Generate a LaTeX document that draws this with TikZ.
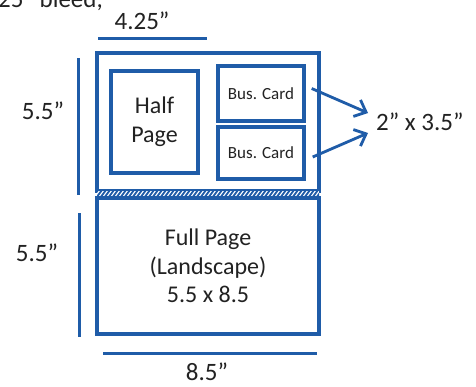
\documentclass[tikz,border=0pt]{standalone}
\usepackage{fontspec}
\setmainfont{Carlito}
\usetikzlibrary{arrows.meta}
\definecolor{pblue}{HTML}{1F5CA8}
\definecolor{ink}{HTML}{222222}
\begin{document}
\begin{tikzpicture}[x=1pt,y=-1pt,
  box/.style={draw=pblue, line width=3.4pt, inner sep=0pt, align=center, text=ink},
  dimline/.style={draw=pblue, line width=3pt},
  lbl/.style={text=ink, inner sep=0pt, font=\fontsize{25}{30}\selectfont},
  arr/.style={draw=pblue, line width=2.8pt, -{Straight Barb[length=10pt,width=18pt,line width=2.8pt]}}]
\clip (0,0) rectangle (476,386);
\fill[white] (0,0) rectangle (476,386);
% partial top text
\node[lbl, anchor=base west] (bleed) at (-2,7) {25” bleed,};
% outer boxes
\node[box, minimum width=222pt, minimum height=138pt] (top) at (208,122) {};
\node[box, minimum width=222pt, minimum height=136pt, font=\fontsize{24}{28.5}\selectfont] (full) at (208,266)
  {Full Page\\(Landscape)\\5.5 x 8.5};
% hatched band
\fill[white] (97,190) rectangle (319,197);
\begin{scope}
  \clip (97,190) rectangle (319,197);
  \foreach \i in {92,96,...,324} {\draw[pblue, line width=1.8pt] (\i,198) -- (\i+6,190);}
\end{scope}
\draw[pblue, line width=2pt] (95.3,190.3) -- (320.7,190.3);
\draw[pblue, line width=2pt] (95.3,197.2) -- (320.7,197.2);
% inner boxes
\node[box, minimum width=87pt, minimum height=102pt, font=\fontsize{24}{29}\selectfont] (half) at (154.5,122) {Half\\Page};
\node[box, minimum width=86pt, minimum height=55pt, font=\fontsize{17}{20}\selectfont] (bc1) at (261,93.5) {Bus. Card};
\node[box, minimum width=86pt, minimum height=52pt, font=\fontsize{17}{20}\selectfont] (bc2) at (261,153) {Bus. Card};
% card size label and arrows
\node[lbl, anchor=west] (dim) at (376,122) {2” x 3.5”};
\draw[arr] ([shift={(6,-5)}]bc1.east) -- ([shift={(-8,-9)}]dim.west);
\draw[arr] ([shift={(7,4)}]bc2.east) -- ([shift={(-8,11)}]dim.west);
% dimension lines
\node[lbl] (w425) at (142,21) {4.25”};
\coordinate (t1) at (98,38); \coordinate (t2) at (207,38);
\draw[dimline] (t1) -- (t2);
\node[lbl] (w85) at (207,372) {8.5”};
\coordinate (b1) at (103,353); \coordinate (b2) at (317,353);
\draw[dimline] (b1) -- (b2);
\node[lbl] (h1) at (43,111) {5.5”};
\coordinate (l1) at (78,58); \coordinate (l2) at (78,195);
\draw[dimline] (l1) -- (l2);
\node[lbl] (h2) at (37,253) {5.5”};
\coordinate (l3) at (79,213); \coordinate (l4) at (79,337);
\draw[dimline] (l3) -- (l4);
\end{tikzpicture}
\end{document}
